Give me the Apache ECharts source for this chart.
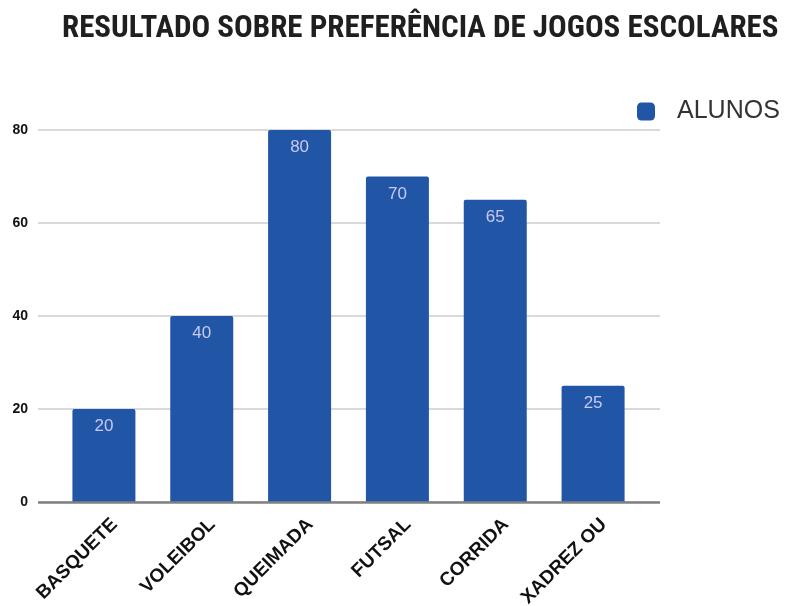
<!DOCTYPE html>
<html><head><meta charset="utf-8">
<script src="https://cdn.jsdelivr.net/npm/echarts@6/dist/echarts.min.js"></script>
<style>html,body{margin:0;padding:0;background:#fff}#c{width:793px;height:606px}</style>
</head><body><div id="c"></div>
<script>
var titleText = 'RESULTADO SOBRE PREFERÊNCIA DE JOGOS ESCOLARES';
var seriesName = 'ALUNOS';
var categories = ['BASQUETE', 'VOLEIBOL', 'QUEIMADA', 'FUTSAL', 'CORRIDA', 'XADREZ OU'];
var values = [20, 40, 80, 70, 65, 25];
var yTicks = [0, 20, 40, 60, 80];

var chart = echarts.init(document.getElementById('c'), null, {renderer: 'canvas'});
var yMax = 80;
chart.setOption({
  animation: false,
  title: {
    text: titleText, left: 62, top: 14, padding: 0,
    textStyle: {fontFamily: '"Liberation Sans Narrow", "Roboto Condensed", Roboto, sans-serif', fontWeight: 'bold', fontSize: 31, color: '#1f1f1f'}
  },
  legend: {
    data: [seriesName], left: 637, top: 99, padding: 0, itemWidth: 18, itemHeight: 18, itemGap: 10,
    icon: 'roundRect',
    textStyle: {fontFamily: 'Arial, "Liberation Sans", sans-serif', fontSize: 25, color: '#333', padding: [0, 0, 0, 17]}
  },
  grid: [
    {left: 38, right: 133, top: 130, bottom: 104, containLabel: false, outerBoundsMode: 'none'},
    {left: 55, right: 151, top: 130, bottom: 104, containLabel: false, outerBoundsMode: 'none'}
  ],
  xAxis: [
    {type: 'category', gridIndex: 0, data: [''], show: false},
    {type: 'category', gridIndex: 1, data: categories,
      axisLine: {show: false}, axisTick: {show: false},
      axisLabel: {rotate: 45, interval: 0, margin: 9, verticalAlign: 'top', lineHeight: 30,
        fontFamily: 'Arial, "Liberation Sans", sans-serif', fontWeight: 'bold', fontSize: 19, color: '#111'}}
  ],
  yAxis: [
    {type: 'value', gridIndex: 0, min: 0, max: yMax, interval: 20,
      axisLine: {show: false}, axisTick: {show: false},
      axisLabel: {margin: 10, fontFamily: 'Arial, "Liberation Sans", sans-serif', fontWeight: 'bold', fontSize: 14, color: '#111',
        formatter: function (v) { return yTicks.indexOf(v) >= 0 ? String(v) : ''; }},
      splitLine: {lineStyle: {color: '#d9d9d9', width: 2}}},
    {type: 'value', gridIndex: 1, min: 0, max: yMax, interval: 20, show: false, splitLine: {show: false}}
  ],
  series: [
    {type: 'line', xAxisIndex: 0, yAxisIndex: 0, data: [], silent: true,
      markLine: {symbol: 'none', silent: true, label: {show: false},
        lineStyle: {color: '#808080', width: 2.5, type: 'solid'}, data: [{yAxis: 0}]}},
    {name: seriesName, type: 'bar', xAxisIndex: 1, yAxisIndex: 1, data: values, barWidth: 63,
      itemStyle: {color: '#2155a6', borderRadius: [2, 2, 0, 0]},
      label: {show: true, position: 'insideTop', distance: 9, fontFamily: 'Arial, "Liberation Sans", sans-serif', fontSize: 17, color: '#c9c9f2'}}
  ]
});
</script></body></html>
